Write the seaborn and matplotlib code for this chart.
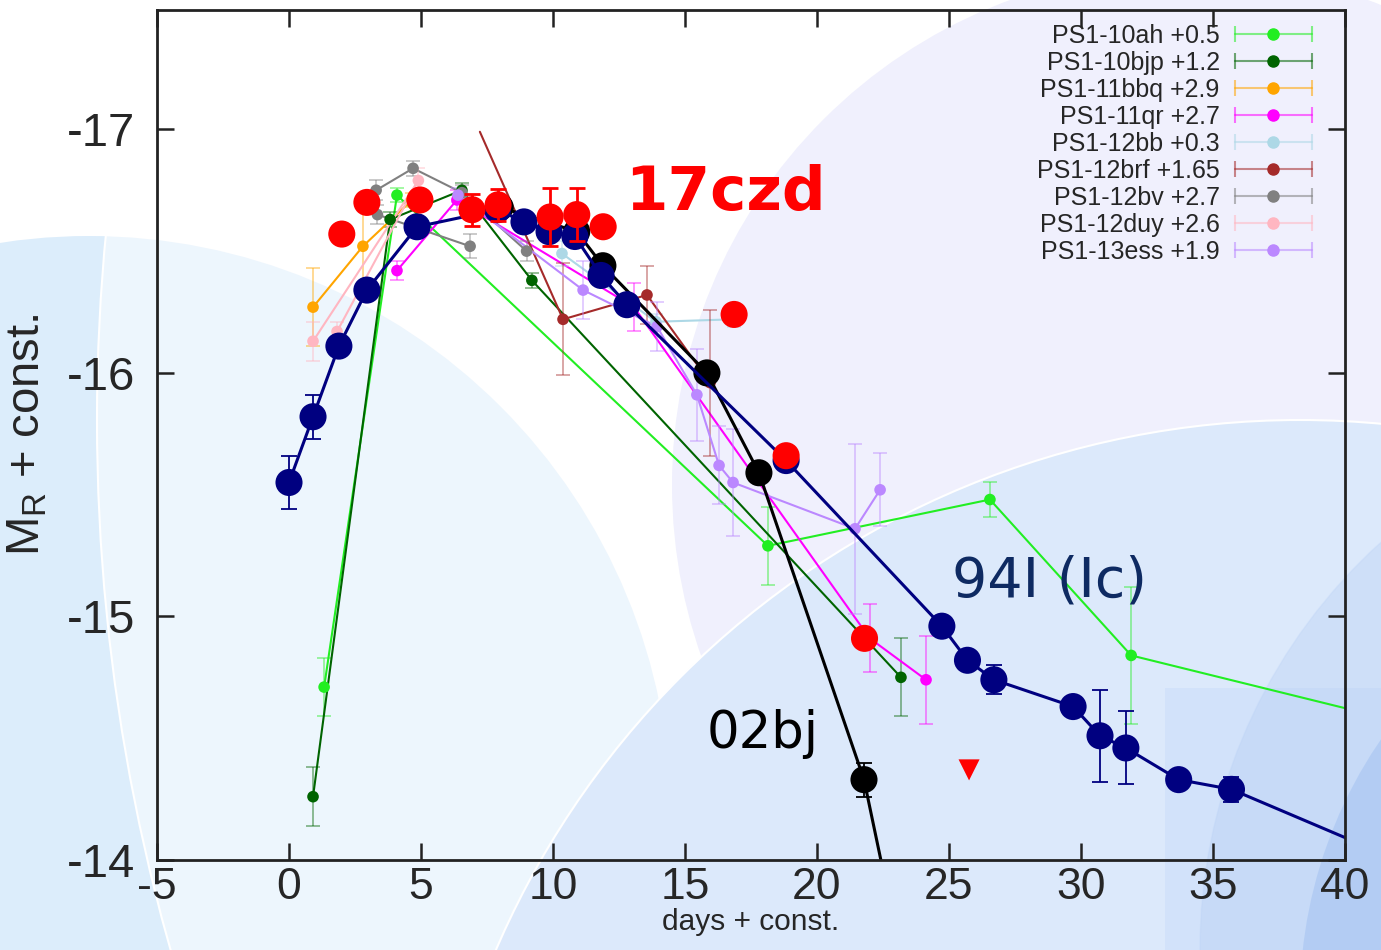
import numpy as np
import pandas as pd
import matplotlib
matplotlib.use("Agg")
import matplotlib.pyplot as plt
import seaborn as sns
from matplotlib.patches import Circle, Rectangle
from matplotlib.transforms import IdentityTransform
from matplotlib.lines import Line2D
from matplotlib.legend_handler import HandlerLine2D, HandlerTuple

# ---------------------------------------------------------------- data
# SN 1994I (Ic) template
t_94I = [0.0, 0.91, 1.89, 2.95, 4.85, 7.9, 8.9, 9.85, 10.83, 11.82, 12.8, 18.83,
         24.73, 25.7, 26.7, 29.7, 30.72, 31.7, 33.7, 35.7, 42.0]
m_94I = [-15.55, -15.82, -16.11, -16.34, -16.60, -16.67, -16.62, -16.58, -16.56,
         -16.40, -16.28, -15.64, -14.96, -14.82, -14.74, -14.63, -14.51, -14.46,
         -14.33, -14.29, -14.0]
e_94I = [0.11, 0.09, 0.03, 0.03, 0.03, 0.02, 0.02, 0.02, 0.02, 0.02, 0.02, 0.02,
         0.02, 0.03, 0.06, 0.03, 0.19, 0.15, 0.02, 0.05, 0.0]

# SN 2002bj
t_02bj = [8.0, 10.9, 11.89, 15.83, 17.8, 21.78, 23.0]
m_02bj = [-16.68, -16.58, -16.44, -16.0, -15.59, -14.33, -13.7]
e_02bj = [0.02, 0.02, 0.02, 0.02, 0.04, 0.07, 0.0]

# SN 2017czd
t_17czd = [2.0, 2.95, 4.96, 6.93, 7.92, 9.89, 10.9, 11.9, 16.86, 18.83, 21.8]
m_17czd = [-16.57, -16.70, -16.71, -16.67, -16.69, -16.64, -16.65, -16.60, -16.24,
           -15.66, -14.91]
e_17czd = [0.02, 0.02, 0.02, 0.065, 0.065, 0.12, 0.11, 0.02, 0.02, 0.03, 0.02]
t_17czd_limit = [25.76]
m_17czd_limit = [-14.37]

# PS1 rapid transients (shifted by the offsets given in the labels)
t_10ah = [1.33, 4.09, 18.14, 26.55, 31.9, 42.0]
m_10ah = [-14.71, -16.73, -15.29, -15.48, -14.84, -14.57]
e_10ah = [0.12, 0.03, 0.16, 0.07, 0.28, 0.0]

t_10bjp = [0.91, 3.83, 6.55, 9.2, 23.18]
m_10bjp = [-14.26, -16.63, -16.75, -16.38, -14.75]
e_10bjp = [0.12, 0.03, 0.03, 0.03, 0.16]

t_11bbq = [0.91, 2.8, 4.66]
m_11bbq = [-16.27, -16.52, -16.71]
e_11bbq = [0.16, 0.19, 0.03]

t_11qr = [4.09, 6.36, 13.07, 22.0, 24.13]
m_11qr = [-16.42, -16.71, -16.27, -14.91, -14.74]
e_11qr = [0.04, 0.04, 0.10, 0.14, 0.18]

t_12bb = [10.34, 13.9, 16.86]
m_12bb = [-16.49, -16.21, -16.22]
e_12bb = [0.05, 0.03, 0.03]

t_12brf = [7.23, 10.38, 13.56, 15.95]
m_12brf = [-16.99, -16.22, -16.32, -15.96]
e_12brf = [0.0, 0.23, 0.12, 0.30]

t_12bv = [6.86, 3.35, 3.3, 4.7, 6.55, 9.0]
m_12bv = [-16.52, -16.65, -16.75, -16.84, -16.74, -16.50]
e_12bv = [0.05, 0.04, 0.04, 0.03, 0.03, 0.04]

t_12duy = [0.91, 4.9, 1.82]
m_12duy = [-16.13, -16.79, -16.17]
e_12duy = [0.08, 0.05, 0.04]

t_13ess = [6.4, 11.14, 13.94, 15.45, 16.29, 16.82, 21.44, 22.39]
m_13ess = [-16.73, -16.34, -16.19, -15.91, -15.62, -15.55, -15.36, -15.52]
e_13ess = [0.03, 0.12, 0.10, 0.19, 0.16, 0.22, 0.35, 0.15]

ps1_names = ["PS1-10ah +0.5", "PS1-10bjp +1.2", "PS1-11bbq +2.9", "PS1-11qr +2.7",
             "PS1-12bb +0.3", "PS1-12brf +1.65", "PS1-12bv +2.7", "PS1-12duy +2.6",
             "PS1-13ess +1.9"]
ps1_colors = ["#22ee22", "#006400", "#ffa500", "#ff00ff", "#add8e6", "#a52a2a",
              "#808080", "#ffb6c1", "#bb88ff"]
ps1_series = [(t_10ah, m_10ah, e_10ah), (t_10bjp, m_10bjp, e_10bjp),
              (t_11bbq, m_11bbq, e_11bbq), (t_11qr, m_11qr, e_11qr),
              (t_12bb, m_12bb, e_12bb), (t_12brf, m_12brf, e_12brf),
              (t_12bv, m_12bv, e_12bv), (t_12duy, m_12duy, e_12duy),
              (t_13ess, m_13ess, e_13ess)]
# first 12brf vertex only anchors the line segment
ps1_marker_start = [0, 0, 0, 0, 0, 1, 0, 0, 0]

x_ticks = [-5, 0, 5, 10, 15, 20, 25, 30, 35, 40]
y_ticks = [-17, -16, -15, -14]

# ---------------------------------------------------------------- style
sns.set_theme(style="ticks")
plt.rcParams['font.family'] = ['Liberation Sans', 'DejaVu Sans']
plt.rcParams['mathtext.fontset'] = 'custom'
plt.rcParams['mathtext.rm'] = 'Liberation Sans'
plt.rcParams['mathtext.it'] = 'Liberation Sans'

W, H = 1381, 950
fig = plt.figure(figsize=(W / 100, H / 100), dpi=100, facecolor="white")
ax = fig.add_axes([157 / W, 1 - 860 / H, (1345 - 157) / W, (860 - 10) / H])
ax.set_facecolor("none")

# soft decorative backdrop (pixel coordinates, y measured from the top)
def deco(patch):
    patch.set_transform(IdentityTransform())
    patch.set_zorder(-5)
    fig.add_artist(patch)

def circ(cx, cy, r, **kw):
    deco(Circle((cx, H - cy), r, **kw))

circ(89, 818, 582, fc="#dcedfb", ec="none")
circ(2043, 420, 1946, fc="white", alpha=0.5, ec="none")
circ(2043, 420, 1946, fc="none", ec="white", lw=1.5)
circ(1189, 485, 517, fc="#f0f0fd", ec="none")
circ(1300, 1295, 875, fc="#dce9fb", ec="white", lw=1.5)
deco(Rectangle((1165, 0), W - 1165, H - 688, fc="#d2e2fa", ec="none"))
circ(1750, 950, 550, fc="#a8c4f2", alpha=0.25, ec="#b8d0f6", lw=1)
circ(1760, 1000, 460, fc="#8fb4ee", alpha=0.35, ec="none")

# ---------------------------------------------------------------- marks
def draw(t, m, e, color, size, lw, z, capsize, err_alpha=1.0, start=0, elw=1.3):
    df = pd.DataFrame({"t": t, "m": m})
    sns.lineplot(data=df, x="t", y="m", sort=False, estimator=None, color=color,
                 lw=lw, ax=ax, zorder=z)
    ts, ms_, es = t[start:], m[start:], e[start:]
    ax.errorbar(ts, ms_, yerr=es, fmt="none", ecolor=color, alpha=err_alpha,
                capsize=capsize, elinewidth=elw, capthick=elw, zorder=z)
    sns.scatterplot(x=ts, y=ms_, color=color, s=size, edgecolor="none", ax=ax,
                    zorder=z + 0.2)

for (t, m, e), c, st in zip(ps1_series, ps1_colors, ps1_marker_start):
    draw(t, m, e, c, 70, 1.5, 3, 5, err_alpha=0.45, start=st)

draw(t_02bj, m_02bj, e_02bj, "black", 380, 2.2, 5, 6)
draw(t_94I, m_94I, e_94I, "#000080", 380, 2.2, 6, 6)

ax.errorbar(t_17czd, m_17czd, yerr=e_17czd, fmt="none", ecolor="red",
            capsize=6, elinewidth=2, capthick=2, zorder=7)
sns.scatterplot(x=t_17czd, y=m_17czd, color="red", s=380, edgecolor="none",
                ax=ax, zorder=7.2)
sns.scatterplot(x=t_17czd_limit, y=m_17czd_limit, color="red", marker="v",
                s=230, edgecolor="none", ax=ax, zorder=7.2)

# ---------------------------------------------------------------- labels
ax.text(12.73, -16.67, "17czd", color="red", fontsize=44, fontweight="bold",
        family="DejaVu Sans", zorder=9)
ax.text(25.1, -15.08, "94I (Ic)", color="#0e2a62", fontsize=40,
        family="DejaVu Sans", zorder=9)
ax.text(15.83, -14.46, "02bj", color="black", fontsize=37,
        family="DejaVu Sans", zorder=9)

# ---------------------------------------------------------------- legend
handles, hmap = [], {}
for c in ps1_colors:
    bar = Line2D([], [], color=c, alpha=0.55, lw=1.5, marker="|",
                 markersize=12, markeredgewidth=1.5)
    dot = Line2D([], [], color=c, ls="none", marker="o", markersize=8)
    hmap[bar] = HandlerLine2D(numpoints=2, marker_pad=0)
    handles.append((bar, dot))
hmap[tuple] = HandlerTuple(ndivide=1)
leg = ax.legend(handles, ps1_names, handler_map=hmap, loc="upper right",
                bbox_to_anchor=(0.985, 1.001), frameon=False, markerfirst=False,
                fontsize=18, handlelength=3.1, handletextpad=0.6,
                labelspacing=0.12, borderaxespad=0.2)
leg.set_zorder(10)

# ---------------------------------------------------------------- axes
ax.set_xlim(-5, 40)
ax.set_ylim(-14, -17.49)
ax.set_xticks(x_ticks)
ax.set_yticks(y_ticks)
ax.set_xticklabels([str(v) for v in x_ticks])
ax.set_yticklabels([str(v) for v in y_ticks])
ax.tick_params(direction="in", length=12, width=1.8, top=True, right=True,
               color="#222222")
ax.tick_params(axis="x", labelsize=32, pad=5)
ax.tick_params(axis="y", labelsize=34, pad=16)
for s in ax.spines.values():
    s.set_linewidth(2)
    s.set_color("#222222")
    s.set_zorder(11)
ax.set_xlabel("days + const.", fontsize=21.5, labelpad=0)
ax.set_ylabel(r"M$_{\rm R}$ + const.", fontsize=34, labelpad=12)

fig.savefig("out.png", dpi=100, facecolor="white")
